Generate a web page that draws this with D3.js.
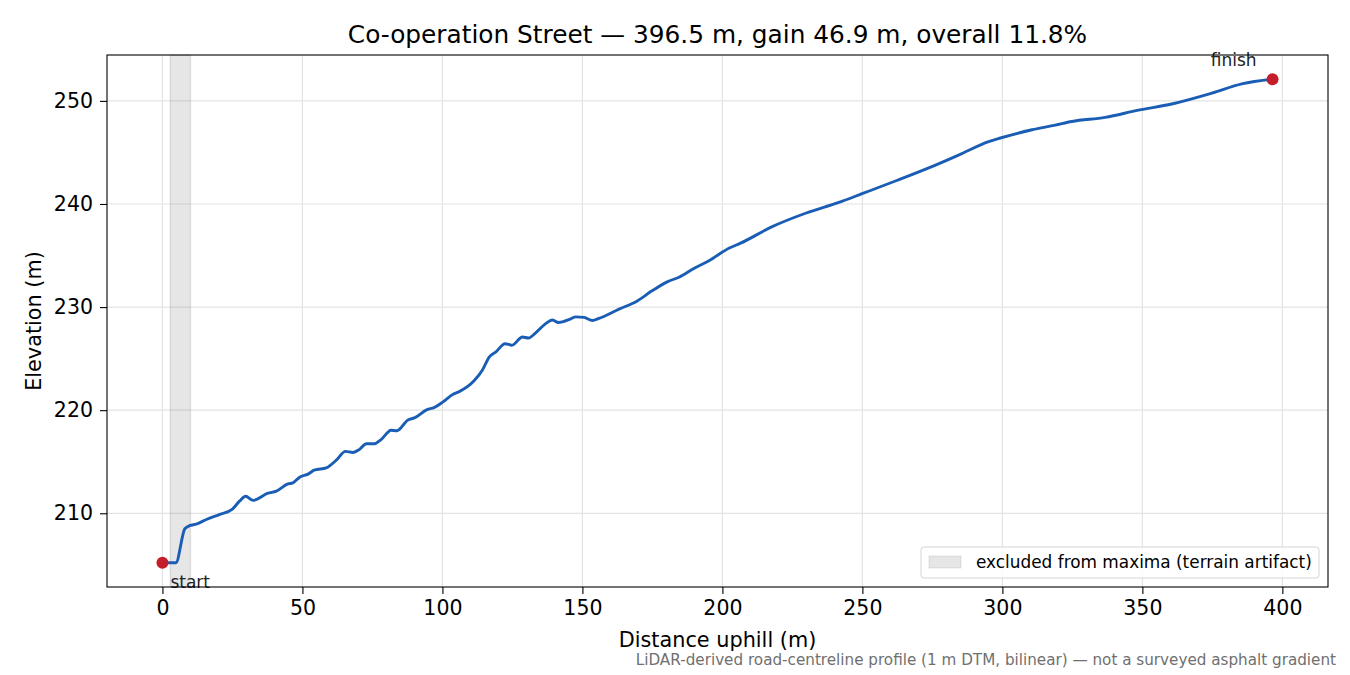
<!DOCTYPE html>
<html>
<head>
<meta charset="utf-8">
<script src="https://cdn.jsdelivr.net/npm/d3@7"></script>
<style>
  body { margin: 0; background: #fff; }
  svg { font-family: "DejaVu Sans", sans-serif; }
</style>
</head>
<body>
<div id="chart"></div>
<script>
// profile
const distance = [0, 4.8, 8.0, 9.7, 12.1, 15.7, 20.5, 25.0, 27.6, 29.7, 32.4, 37.7, 40.7, 44.8, 46.6, 49.0, 52.0, 54.4, 58.5, 62.1, 65.4, 68.0, 70.4, 72.8, 75.8, 78.1, 81.7, 83.7, 87.7, 90.0, 94.5, 97.0, 100.2, 103.8, 106.0, 111.3, 114.3, 116.7, 119.1, 122.4, 124.8, 128.6, 130.7, 133.3, 136.9, 139.3, 141.4, 145.8, 147.6, 150.6, 153.6, 155.9, 163.1, 169.6, 175.0, 180.3, 184.5, 189.8, 195.2, 202.3, 206.5, 217.8, 229.7, 241.6, 249.9, 262.5, 273.7, 284.4, 295.1, 299.3, 310.6, 318.9, 324.8, 336.7, 348.6, 360.5, 374.8, 385.5, 396.5];
const elevation = [205.2, 205.2, 208.5, 208.8, 208.95, 209.4, 209.9, 210.4, 211.2, 211.65, 211.25, 211.95, 212.15, 212.85, 212.95, 213.5, 213.8, 214.2, 214.4, 215.15, 216.0, 215.9, 216.2, 216.75, 216.75, 217.15, 218.05, 218.0, 219.05, 219.25, 220.05, 220.25, 220.8, 221.55, 221.8, 222.85, 223.9, 225.15, 225.65, 226.45, 226.3, 227.1, 227.0, 227.5, 228.4, 228.75, 228.5, 228.85, 229.05, 229.0, 228.7, 228.9, 229.8, 230.6, 231.6, 232.45, 232.9, 233.75, 234.5, 235.7, 236.2, 237.8, 239.1, 240.15, 241.0, 242.3, 243.5, 244.75, 246.05, 246.4, 247.2, 247.65, 248.0, 248.4, 249.1, 249.7, 250.75, 251.65, 252.1];
const excludedSpan = [2.8, 10.0];
const xTicks = [0, 50, 100, 150, 200, 250, 300, 350, 400];
const yTicks = [210, 220, 230, 240, 250];

const width = 1350, height = 675;
const margin = {top: 55, right: 22, bottom: 88, left: 107};

const svg = d3.select('#chart')
    .append('svg')
    .attr('width', width)
    .attr('height', height);

const x = d3.scaleLinear()
    .domain([-19.8, 416.3])
    .range([margin.left, width - margin.right]);
const y = d3.scaleLinear()
    .domain([202.85, 254.45])
    .range([height - margin.bottom, margin.top]);

const points = distance.map((d, i) => [d, elevation[i]]);

// grid
svg.append('g')
    .selectAll('line')
    .data(xTicks)
    .join('line')
    .attr('x1', d => x(d)).attr('x2', d => x(d))
    .attr('y1', margin.top).attr('y2', height - margin.bottom)
    .attr('stroke', '#e3e3e3').attr('stroke-width', 1.2);
svg.append('g')
    .selectAll('line')
    .data(yTicks)
    .join('line')
    .attr('x1', margin.left).attr('x2', width - margin.right)
    .attr('y1', d => y(d)).attr('y2', d => y(d))
    .attr('stroke', '#e3e3e3').attr('stroke-width', 1.2);

// excluded span
svg.append('rect')
    .attr('x', x(excludedSpan[0]))
    .attr('y', margin.top)
    .attr('width', x(excludedSpan[1]) - x(excludedSpan[0]))
    .attr('height', height - margin.bottom - margin.top)
    .attr('fill', 'rgba(128,128,128,0.2)')
    .attr('stroke', 'rgba(128,128,128,0.2)')
    .attr('stroke-width', 1.5);

// profile line
svg.append('path')
    .datum(points)
    .attr('d', d3.line().curve(d3.curveMonotoneX).x(d => x(d[0])).y(d => y(d[1])))
    .attr('fill', 'none')
    .attr('stroke', '#1a5db4')
    .attr('stroke-width', 2.9)
    .attr('stroke-linejoin', 'round');

// start / finish
const ends = [points[0], points[points.length - 1]];
svg.append('g')
    .selectAll('circle')
    .data(ends)
    .join('circle')
    .attr('cx', d => x(d[0]))
    .attr('cy', d => y(d[1]))
    .attr('r', 6)
    .attr('fill', '#c41e2a');

svg.append('text')
    .attr('x', x(ends[0][0]) + 8)
    .attr('y', y(ends[0][1]) + 25)
    .attr('font-size', 17)
    .attr('fill', '#222')
    .text('start');
svg.append('text')
    .attr('x', x(ends[1][0]) - 16)
    .attr('y', y(ends[1][1]) - 13)
    .attr('text-anchor', 'end')
    .attr('font-size', 17)
    .attr('fill', '#222')
    .text('finish');

// axes
const xAxis = svg.append('g')
    .attr('transform', `translate(0,${height - margin.bottom})`)
    .call(d3.axisBottom(x).tickValues(xTicks).tickSize(7).tickPadding(6));
const yAxis = svg.append('g')
    .attr('transform', `translate(${margin.left},0)`)
    .call(d3.axisLeft(y).tickValues(yTicks).tickSize(7).tickPadding(7));
[xAxis, yAxis].forEach(a => {
    a.select('.domain').remove();
    a.selectAll('text').attr('font-size', 20.5).attr('fill', '#000')
        .attr('font-family', '"DejaVu Sans", sans-serif');
    a.selectAll('line').attr('stroke', '#000').attr('stroke-width', 1.1);
});

svg.append('rect')
    .attr('x', margin.left).attr('y', margin.top)
    .attr('width', width - margin.right - margin.left)
    .attr('height', height - margin.bottom - margin.top)
    .attr('fill', 'none')
    .attr('stroke', '#000')
    .attr('stroke-width', 1.1);

// legend
const lg = svg.append('g').attr('transform', 'translate(921,547)');
lg.append('rect')
    .attr('width', 398).attr('height', 31).attr('rx', 3)
    .attr('fill', 'rgba(255,255,255,0.85)')
    .attr('stroke', '#d5d5d5');
lg.append('rect')
    .attr('x', 8).attr('y', 9).attr('width', 32).attr('height', 12)
    .attr('fill', 'rgba(128,128,128,0.2)')
    .attr('stroke', 'rgba(128,128,128,0.2)');
lg.append('text')
    .attr('x', 55).attr('y', 21)
    .attr('font-size', 16.9)
    .attr('fill', '#000')
    .text('excluded from maxima (terrain artifact)');

// titles
svg.append('text')
    .attr('x', (margin.left + width - margin.right) / 2)
    .attr('y', 43)
    .attr('text-anchor', 'middle')
    .attr('font-size', 24.8)
    .attr('fill', '#000')
    .text('Co-operation Street — 396.5 m, gain 46.9 m, overall 11.8%');
svg.append('text')
    .attr('x', (margin.left + width - margin.right) / 2)
    .attr('y', 647)
    .attr('text-anchor', 'middle')
    .attr('font-size', 20.8)
    .attr('fill', '#000')
    .text('Distance uphill (m)');
svg.append('text')
    .attr('transform', `translate(41,${(margin.top + height - margin.bottom) / 2}) rotate(-90)`)
    .attr('text-anchor', 'middle')
    .attr('font-size', 20.8)
    .attr('fill', '#000')
    .text('Elevation (m)');
svg.append('text')
    .attr('x', 1336)
    .attr('y', 665)
    .attr('text-anchor', 'end')
    .attr('font-size', 15.2)
    .attr('fill', '#707070')
    .text('LiDAR-derived road-centreline profile (1 m DTM, bilinear) — not a surveyed asphalt gradient');
</script>
</body>
</html>
